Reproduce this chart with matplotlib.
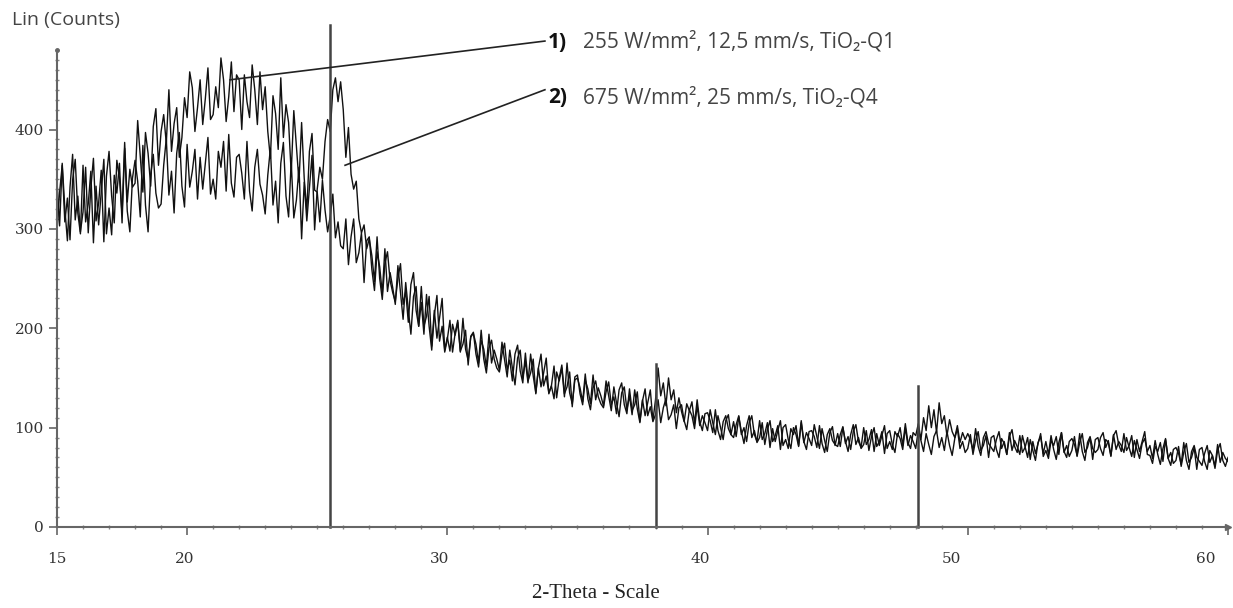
# -*- coding: utf-8 -*-
"""
XRD pattern of two laser treated TiO2 coatings (Lin counts vs 2-Theta)
"""

import numpy as np
import matplotlib.pyplot as plt
import matplotlib.transforms as mtransforms
from matplotlib.ticker import MultipleLocator

# scan positions, 0.1 deg step from 15 to 60
two_theta = np.round(np.arange(15.0, 60.05, 0.1), 1)

# 1) 255 W/mm2, 12,5 mm/s  (broad amorphous hump), one row per degree
counts_q1 = [
    348, 303, 366, 321, 288, 342, 375, 309, 333, 297,
    317, 362, 296, 341, 371, 308, 326, 359, 287, 353,
    378, 333, 306, 369, 351, 315, 387, 327, 360, 342,
    346, 409, 373, 337, 397, 376, 343, 403, 421, 364,
    398, 415, 386, 440, 378, 406, 422, 372, 392, 432,
    412, 458, 442, 398, 422, 450, 405, 431, 462, 410,
    415, 443, 422, 472, 450, 408, 433, 468, 418, 455,
    450, 400, 455, 428, 412, 465, 440, 405, 458, 420,
    443, 398, 371, 434, 416, 380, 452, 392, 425, 407,
    356, 419, 383, 347, 407, 351, 318, 378, 396, 339,
    337, 307, 349, 319, 297, 313, 335, 291, 307, 283,
    280, 310, 264, 292, 310, 266, 276, 296, 246, 288,
    292, 259, 238, 277, 262, 235, 280, 237, 256, 241,
    224, 263, 236, 209, 246, 219, 194, 232, 242, 202,
    226, 194, 234, 202, 178, 213, 233, 187, 202, 176,
    189, 208, 176, 195, 208, 177, 184, 198, 163, 192,
    196, 174, 161, 188, 179, 161, 194, 165, 178, 169,
    158, 186, 168, 151, 178, 160, 143, 170, 178, 150,
    167, 145, 174, 152, 135, 160, 174, 142, 152, 135,
    142, 162, 130, 150, 163, 134, 141, 156, 121, 151,
    153, 134, 123, 148, 139, 124, 153, 128, 140, 132,
    122, 147, 132, 117, 141, 125, 111, 135, 141, 118,
    132, 113, 138, 119, 105, 127, 139, 112, 121, 106,
    113, 128, 105, 120, 129, 108, 113, 123, 99, 120,
    123, 107, 98, 118, 112, 99, 122, 102, 112, 105,
    97, 118, 105, 93, 112, 100, 88, 107, 113, 93,
    106, 91, 111, 96, 84, 102, 112, 90, 97, 85,
    90, 105, 83, 98, 107, 86, 92, 102, 78, 100,
    103, 88, 79, 100, 93, 81, 105, 85, 95, 89,
    82, 103, 91, 79, 99, 87, 76, 95, 101, 82,
    94, 81, 100, 86, 76, 93, 103, 83, 90, 79,
    83, 97, 77, 91, 100, 81, 86, 96, 74, 94,
    97, 83, 75, 94, 89, 78, 100, 82, 92, 86,
    79, 98, 87, 76, 94, 83, 73, 91, 97, 80,
    90, 77, 96, 82, 72, 89, 99, 79, 86, 75,
    79, 93, 73, 87, 96, 77, 82, 92, 70, 90,
    92, 78, 70, 89, 84, 73, 95, 77, 87, 81,
    73, 92, 81, 70, 88, 77, 67, 85, 91, 74,
    86, 73, 92, 78, 68, 85, 95, 75, 82, 71,
    77, 91, 71, 85, 94, 75, 80, 90, 68, 88,
    90, 79, 72, 88, 85, 71, 93, 78, 86, 82,
    75, 90, 80, 71, 87, 78, 69, 84, 89, 76,
    82, 69, 87, 73, 63, 79, 89, 69, 75, 64,
    67, 81, 61, 75, 84, 65, 70, 80, 58, 78,
    80, 66, 58, 77, 72, 61, 83, 65, 75, 69,
    66,
]

# 2) 675 W/mm2, 25 mm/s  (anatase reflections visible)
counts_q4 = [
    298, 337, 364, 307, 331, 289, 349, 370, 316, 295,
    364, 307, 325, 358, 286, 343, 304, 337, 370, 295,
    321, 294, 354, 336, 366, 306, 381, 318, 297, 351,
    369, 348, 312, 384, 324, 297, 354, 375, 336, 321,
    325, 364, 391, 334, 358, 316, 376, 397, 343, 322,
    385, 342, 358, 380, 330, 372, 340, 366, 392, 335,
    350, 330, 378, 362, 388, 338, 395, 346, 332, 372,
    375, 356, 330, 388, 338, 318, 362, 380, 345, 334,
    315, 354, 381, 324, 348, 306, 366, 387, 333, 312,
    368, 311, 329, 362, 290, 347, 308, 341, 374, 299,
    340, 362, 350, 388, 410, 398, 440, 452, 428, 448,
    420, 372, 402, 355, 340, 348, 310, 296, 304, 280,
    290, 273, 247, 292, 250, 229, 265, 277, 248, 236,
    227, 250, 265, 224, 237, 206, 244, 256, 218, 202,
    242, 202, 212, 232, 182, 218, 190, 210, 230, 178,
    191, 177, 204, 193, 206, 176, 210, 179, 168, 191,
    195, 184, 165, 198, 169, 155, 180, 188, 169, 160,
    156, 174, 185, 158, 168, 147, 174, 183, 157, 145,
    175, 147, 155, 169, 134, 160, 141, 155, 170, 134,
    142, 129, 156, 147, 160, 131, 165, 135, 124, 148,
    150, 140, 126, 154, 129, 118, 140, 147, 131, 124,
    120, 136, 146, 123, 131, 114, 138, 145, 123, 114,
    139, 117, 123, 136, 106, 128, 112, 125, 138, 107,
    128, 160, 132, 145, 122, 150, 128, 138, 115, 130,
    116, 106, 124, 117, 126, 104, 128, 106, 97, 114,
    115, 107, 95, 118, 97, 88, 106, 112, 99, 93,
    90, 103, 112, 93, 100, 86, 105, 112, 93, 86,
    107, 88, 94, 105, 80, 99, 86, 97, 107, 82,
    88, 79, 99, 93, 102, 82, 107, 86, 78, 96,
    97, 91, 80, 102, 84, 75, 93, 99, 87, 83,
    81, 93, 101, 84, 91, 78, 96, 103, 86, 80,
    100, 83, 88, 98, 76, 94, 82, 92, 102, 79,
    86, 78, 96, 91, 100, 82, 104, 85, 79, 95,
    92, 104, 88, 110, 97, 122, 100, 118, 95, 125,
    104, 112, 92, 108, 96, 90, 102, 85, 95, 88,
    94, 88, 77, 99, 81, 72, 90, 96, 84, 80,
    76, 88, 96, 79, 86, 73, 91, 98, 81, 75,
    92, 75, 80, 90, 68, 86, 74, 84, 94, 71,
    77, 69, 87, 82, 91, 73, 95, 76, 70, 86,
    89, 83, 72, 94, 76, 67, 85, 91, 79, 75,
    78, 90, 95, 80, 87, 72, 92, 97, 83, 76,
    94, 77, 82, 92, 70, 88, 76, 86, 96, 73,
    72, 64, 81, 76, 85, 66, 88, 69, 62, 78,
    80, 74, 63, 85, 67, 58, 76, 82, 70, 66,
    62, 74, 82, 65, 72, 59, 77, 84, 67, 61,
    70,
]

# anatase reference lines
ref_pos = [25.5, 38.0, 48.1]
ref_height = [505, 164, 142]

labels = ['255 W/mm\u00b2, 12,5 mm/s, TiO\u2082-Q1',
          '675 W/mm\u00b2, 25 mm/s, TiO\u2082-Q4']

sans = ['Open Sans', 'DejaVu Sans']

fig = plt.figure(figsize=(12.33, 6.08), dpi=100)
ax = fig.add_axes([57 / 1233, 81 / 608, 1171 / 1233, 477 / 608])

ax.plot(two_theta, counts_q1, color='#111111', lw=1.0)
ax.plot(two_theta, counts_q4, color='#111111', lw=1.0)

for xp, h in zip(ref_pos, ref_height):
    ax.plot([xp, xp], [0, h], color='#444444', lw=1.8, clip_on=False)

ax.set_xlim(15, 60)
ax.set_ylim(0, 480)

for s in ['top', 'right']:
    ax.spines[s].set_visible(False)
for s in ['left', 'bottom']:
    ax.spines[s].set_color('#666666')
    ax.spines[s].set_linewidth(1.5)
# axis end marks
ax.plot(1, 0, marker='>', ms=5, color='#666666', transform=ax.transAxes,
        clip_on=False)
ax.plot(0, 1, marker='o', ms=2.5, color='#666666', transform=ax.transAxes,
        clip_on=False)

ax.set_xticks([15, 20, 30, 40, 50, 60])
ax.set_yticks([0, 100, 200, 300, 400])
ax.xaxis.set_minor_locator(MultipleLocator(1))
ax.yaxis.set_minor_locator(MultipleLocator(10))
ax.tick_params(which='major', direction='out', length=6, width=1.2,
               color='#666666', labelsize=11, labelcolor='#333333')
ax.tick_params(which='minor', direction='inout', length=3, width=1,
               color='#888888')
ax.tick_params(axis='x', which='major', pad=12)
for lbl in ax.get_xticklabels() + ax.get_yticklabels():
    lbl.set_family('DejaVu Serif')

# x labels sit a little left of their ticks
xlabel_shift = [0, -2, -8, -7, -16, -22]
for tick, dx in zip(ax.xaxis.get_major_ticks(), xlabel_shift):
    off = mtransforms.ScaledTranslation(dx / 100, 0, fig.dpi_scale_trans)
    tick.label1.set_transform(tick.label1.get_transform() + off)

fig.text(596 / 1233, 1 - 593 / 608, '2-Theta - Scale', family='Liberation Serif',
         fontsize=15, color='#222222', ha='center', va='center')
fig.text(12 / 1233, 1 - 20 / 608, 'Lin (Counts)', family=sans, fontsize=14,
         color='#444444', va='center', ha='left')

# leader lines to the sample labels
ax.plot([21.65, 33.75], [450, 489], color='#222222', lw=1.2, clip_on=False)
ax.plot([26.07, 33.75], [364, 440], color='#222222', lw=1.2, clip_on=False)

for i, (txt, yv) in enumerate(zip(labels, [488, 432])):
    ax.text(33.87, yv, '%d)' % (i + 1), family=sans, fontsize=15,
            fontweight='bold', color='#111111', va='center', ha='left')
    ax.text(35.21, yv, txt, family=sans, fontsize=15, color='#444444',
            va='center', ha='left')

plt.savefig('out.png', dpi=100)
